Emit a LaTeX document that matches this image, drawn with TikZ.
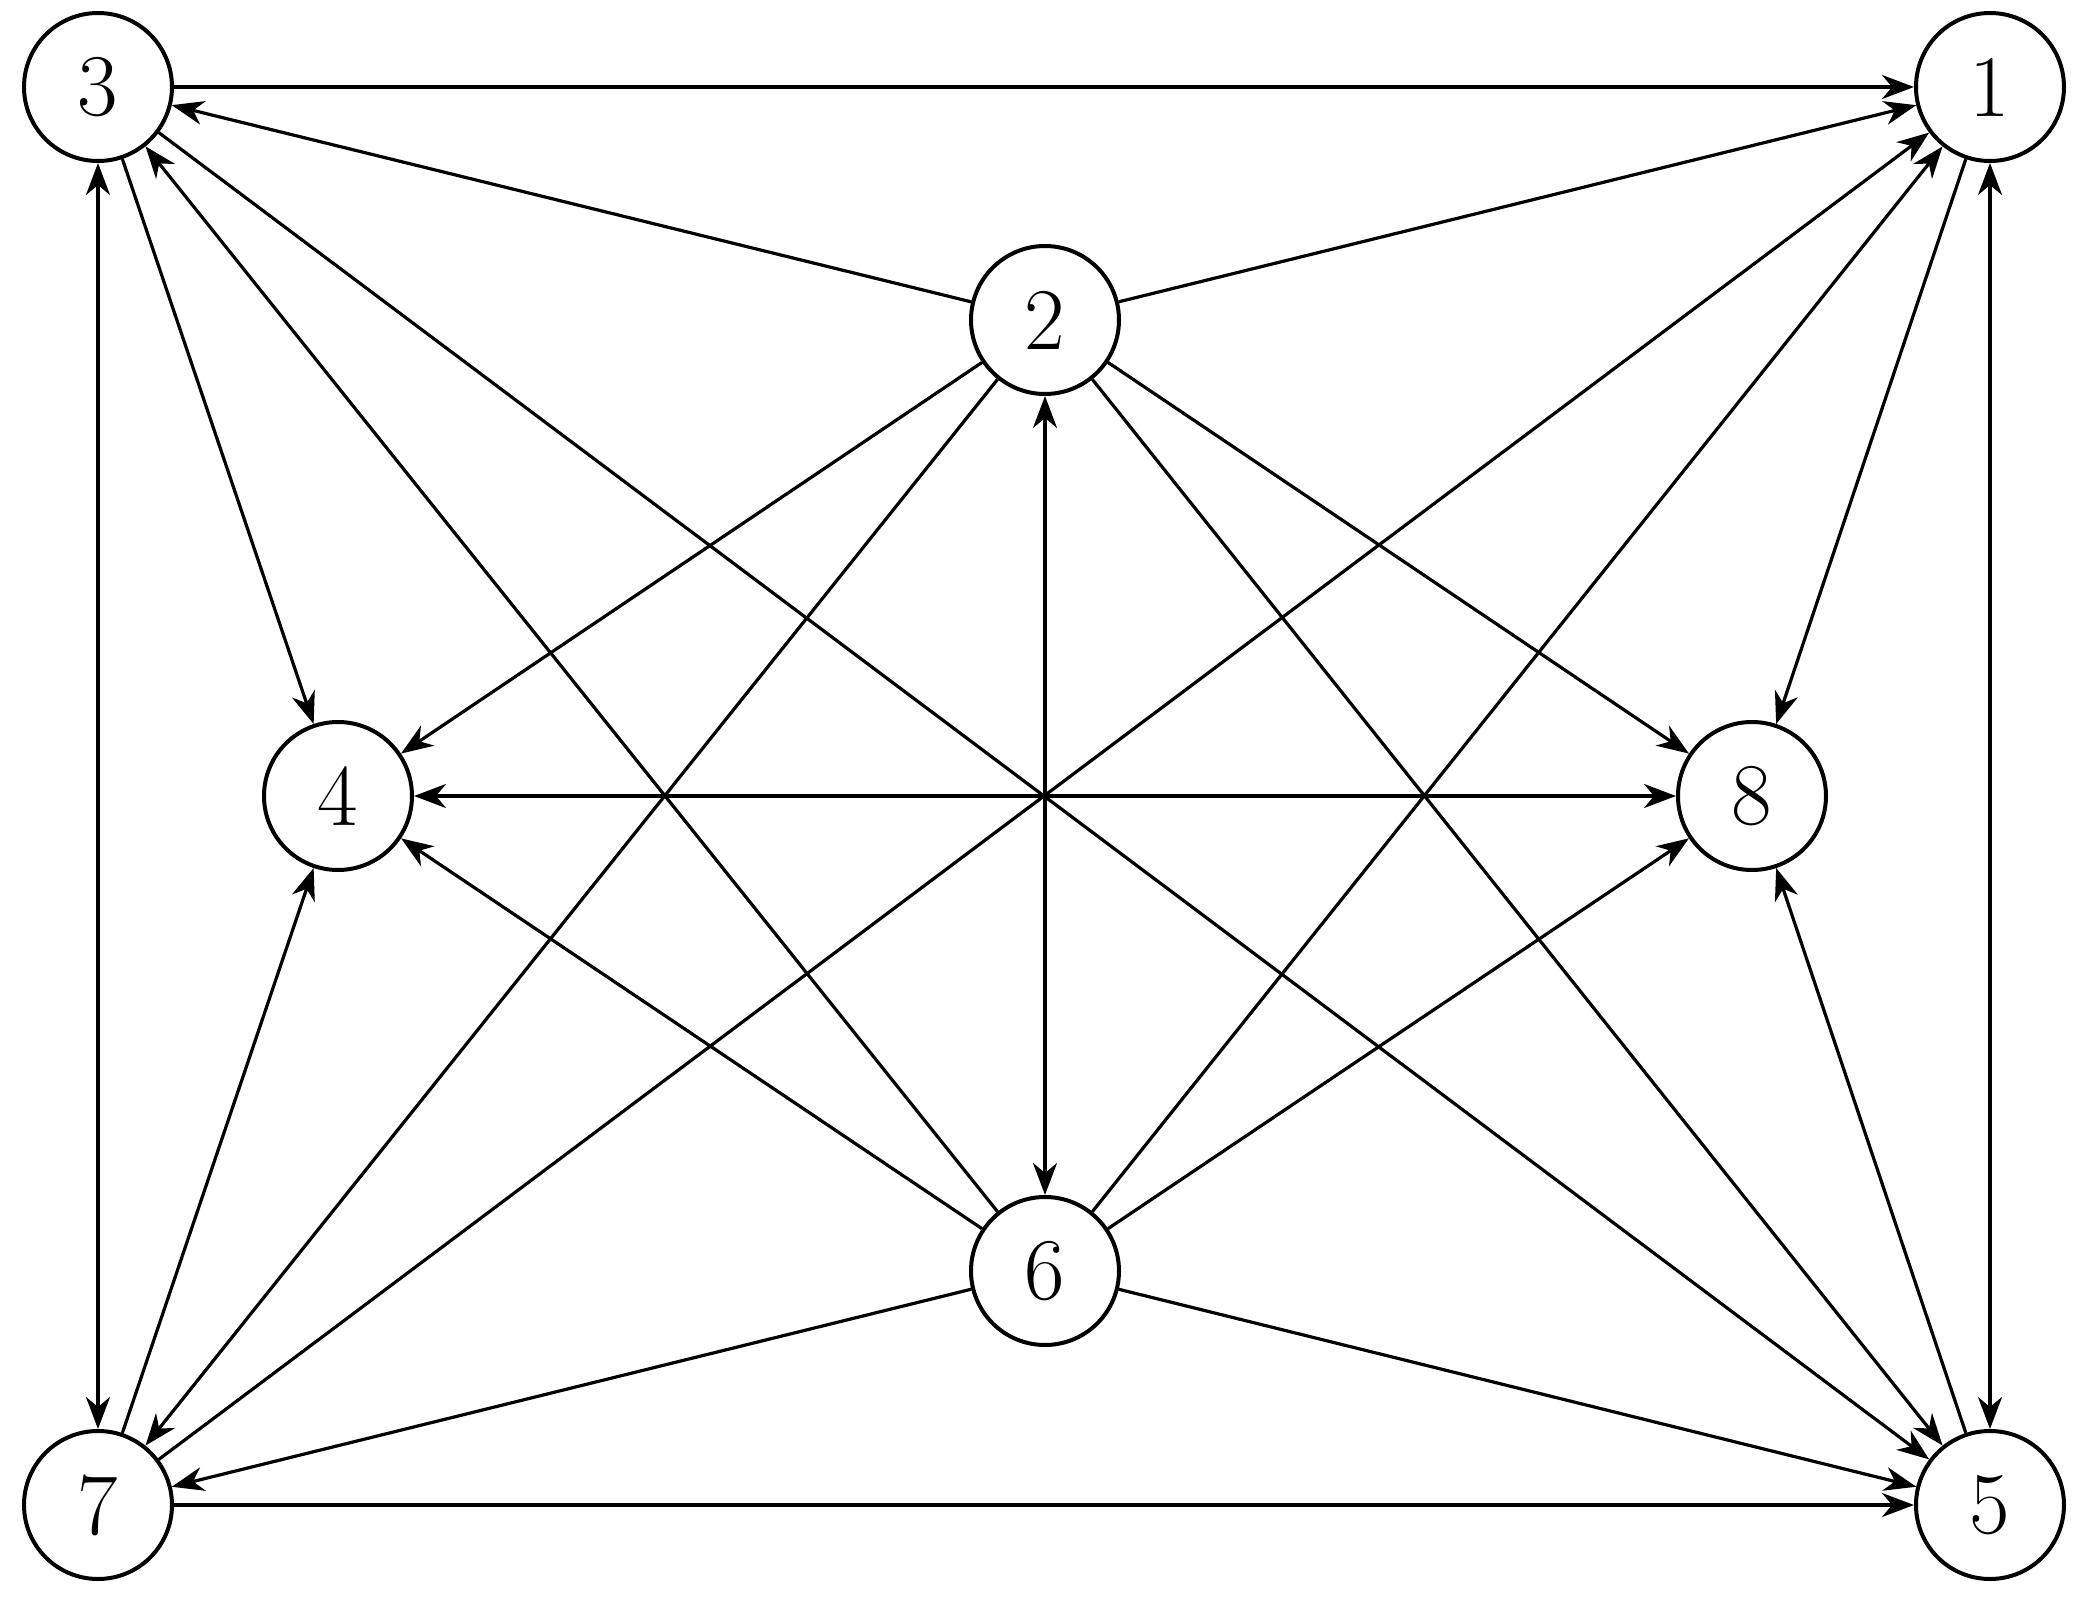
\documentclass[tikz,border=0pt]{standalone}
\usetikzlibrary{arrows.meta}
\begin{document}
\begin{tikzpicture}[x=0.25pt,y=-0.25pt,
  v/.style={circle,draw,line width=1pt,minimum size=37pt,inner sep=0pt,font=\fontsize{22}{22}\selectfont},
  e/.style={line width=0.8pt,-{Stealth[length=8pt,width=6pt,inset=2.5pt]}},
  b/.style={line width=0.8pt,{Stealth[length=8pt,width=6pt,inset=2.5pt]}-{Stealth[length=8pt,width=6pt,inset=2.5pt]}},
  n/.style={line width=0.8pt}]
\useasboundingbox (0,0) rectangle (2092,1606);
\node[v] (3) at (98,87) {3};
\node[v] (1) at (1990,87) {1};
\node[v] (2) at (1045,320) {2};
\node[v] (4) at (338,796) {4};
\node[v] (8) at (1752,796) {8};
\node[v] (6) at (1045,1271) {6};
\node[v] (7) at (98,1505) {7};
\node[v] (5) at (1990,1505) {5};
\draw[e] (3)--(1);
\draw[e] (2)--(3);
\draw[e] (2)--(1);
\draw[e] (2)--(4);
\draw[e] (2)--(7);
\draw[e] (2)--(8);
\draw[e] (2)--(5);
\draw[b] (2)--(6);
\draw[e] (3)--(4);
\draw[b] (3)--(7);
\draw[e] (3)--(5);
\draw[e] (6)--(3);
\draw[b] (1)--(5);
\draw[e] (1)--(8);
\draw[e] (6)--(1);
\draw[e] (7)--(1);
\draw[e] (7)--(4);
\draw[e] (6)--(7);
\draw[e] (7)--(5);
\draw[e] (5)--(8);
\draw[e] (6)--(4);
\draw[e] (6)--(8);
\draw[e] (6)--(5);
\draw[b] (4)--(8);
\end{tikzpicture}
\end{document}
